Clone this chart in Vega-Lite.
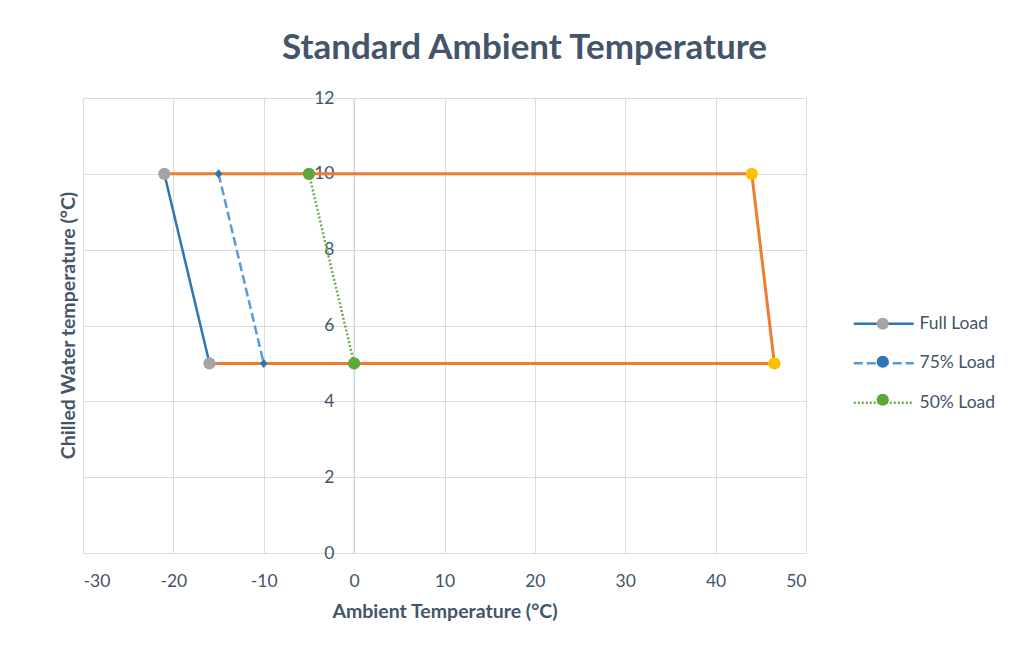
{
  "$schema": "https://vega.github.io/schema/vega-lite/v6.json",
  "width": 723,
  "height": 455,
  "autosize": {"type": "none"},
  "padding": {"left": 83, "top": 98, "right": 211, "bottom": 97},
  "background": "white",
  "title": {
    "text": "Standard Ambient Temperature",
    "font": "Lato",
    "fontSize": 35,
    "fontWeight": "bold",
    "color": "#44546A",
    "anchor": "middle",
    "dx": 80,
    "offset": 23
  },
  "config": {
    "view": {"stroke": null},
    "axis": {
      "labelFont": "Lato",
      "labelFontSize": 17.5,
      "labelColor": "#44546A",
      "titleFont": "Lato",
      "titleFontSize": 19.5,
      "titleFontWeight": "bold",
      "titleColor": "#44546A",
      "gridColor": "#DCDCDC",
      "gridWidth": 1,
      "domain": false,
      "ticks": false
    },
    "legend": {
      "labelFont": "Lato",
      "labelFontSize": 17.5,
      "labelColor": "#44546A",
      "padding": 0
    }
  },
  "datasets": {
    "series": [
      {"series": "Full Load", "x": -21, "y": 10, "o": 1},
      {"series": "Full Load", "x": -16, "y": 5, "o": 2},
      {"series": "75% Load", "x": -15, "y": 10, "o": 1},
      {"series": "75% Load", "x": -10, "y": 5, "o": 2},
      {"series": "50% Load", "x": -5, "y": 10, "o": 1},
      {"series": "50% Load", "x": 0, "y": 5, "o": 2}
    ],
    "envelope": [
      {"x": -21, "y": 10, "o": 1},
      {"x": 44, "y": 10, "o": 2},
      {"x": 46.5, "y": 5, "o": 3},
      {"x": -16, "y": 5, "o": 4}
    ],
    "gold": [
      {"x": 44, "y": 10},
      {"x": 46.5, "y": 5}
    ],
    "zero": [{"x": 0}]
  },
  "encoding": {
    "x": {
      "field": "x",
      "type": "quantitative",
      "scale": {"domain": [-30, 50], "nice": false, "zero": false},
      "axis": {
        "values": [-30, -20, -10, 0, 10, 20, 30, 40, 50],
        "labelExpr": "datum.value < 0 ? '-' + abs(datum.value) : '' + datum.value",
        "title": "Ambient Temperature (°C)",
        "labelPadding": 19,
        "titleBaseline": "middle",
        "titleY": 58
      }
    },
    "y": {
      "field": "y",
      "type": "quantitative",
      "scale": {"domain": [0, 12], "nice": false},
      "axis": {
        "values": [0, 2, 4, 6, 8, 10, 12],
        "title": "Chilled Water temperature (°C)",
        "labelPadding": -251,
        "titleBaseline": "middle",
        "titleX": -15,
        "titleY": 227
      }
    }
  },
  "layer": [
    {
      "data": {"name": "zero"},
      "mark": {"type": "rule", "color": "#C3D1E6", "strokeWidth": 1},
      "encoding": {"x": {"field": "x", "type": "quantitative"}, "y": null}
    },
    {
      "data": {"name": "envelope"},
      "mark": {"type": "line", "color": "#ED7D31", "strokeWidth": 3},
      "encoding": {"order": {"field": "o", "type": "quantitative"}}
    },
    {
      "data": {"name": "series"},
      "mark": {"type": "line", "strokeWidth": 2.5},
      "encoding": {
        "order": {"field": "o", "type": "quantitative"},
        "stroke": {
          "field": "series",
          "type": "nominal",
          "scale": {"domain": ["Full Load", "75% Load", "50% Load"], "range": ["#2E75B6", "#5B9BD5", "#70AD47"]},
          "legend": {
            "title": null,
            "orient": "none",
            "legendX": 792,
            "legendY": 217,
            "symbolType": "M-6,0H6",
            "symbolSize": 100,
            "symbolStrokeWidth": 2.5,
            "labelOffset": 27,
            "rowPadding": 20.5,
            "zindex": 1
          }
        },
        "strokeDash": {
          "field": "series",
          "type": "nominal",
          "scale": {"domain": ["Full Load", "75% Load", "50% Load"], "range": [[1, 0], [9, 4], [2, 2]]},
          "legend": null
        }
      }
    },
    {
      "data": {"name": "gold"},
      "mark": {"type": "point", "filled": true, "shape": "circle", "size": 150, "color": "#FFC000", "opacity": 1}
    },
    {
      "data": {"name": "series"},
      "mark": {"type": "point", "filled": true, "opacity": 1, "size": 150},
      "encoding": {
        "fill": {
          "field": "series",
          "type": "nominal",
          "sort": ["Full Load", "75% Load", "50% Load"],
          "scale": {"range": ["#A5A5A5", "#2E75B6", "#5EA73A"]},
          "legend": {
            "title": null,
            "orient": "none",
            "legendX": 791,
            "legendY": 217,
            "labelExpr": "''",
            "symbolSize": 150,
            "rowPadding": 19,
            "zindex": 2
          }
        },
        "shape": {
          "field": "series",
          "type": "nominal",
          "sort": ["Full Load", "75% Load", "50% Load"],
          "scale": {"range": ["circle", "M0,-0.75L0.62,0L0,0.75L-0.62,0Z", "circle"]},
          "legend": null
        }
      }
    }
  ]
}
